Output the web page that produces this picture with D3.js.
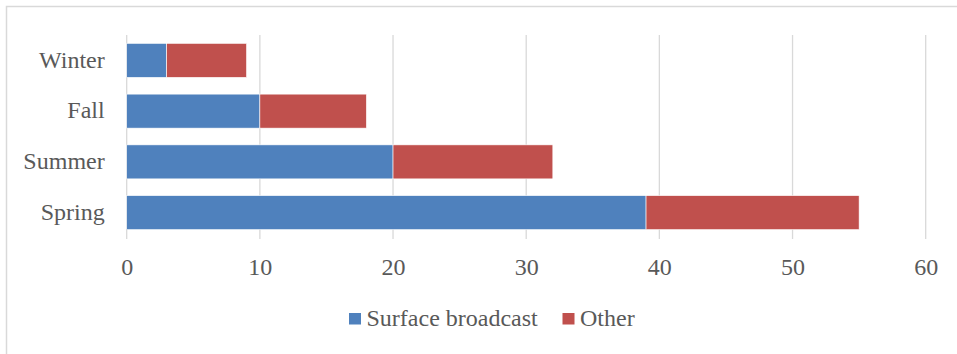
<!DOCTYPE html>
<html>
<head>
<meta charset="utf-8">
<script src="https://cdn.jsdelivr.net/npm/d3@7"></script>
<style>
  html, body { margin: 0; padding: 0; background: #fff; }
  svg { display: block; }
  text { font-family: "Liberation Serif", "Times New Roman", serif; fill: #595959; }
</style>
</head>
<body>
<svg id="chart" width="957" height="354"></svg>
<script>
// Seasons, listed top to bottom
const categories = ["Winter", "Fall", "Summer", "Spring"];
const seriesNames = ["Surface broadcast", "Other"];
const surfaceBroadcast = [3, 10, 20, 39];
const other = [6, 8, 12, 16];
const xTicks = [0, 10, 20, 30, 40, 50, 60];
const colors = ["#4f81bd", "#c0504d"];

const svg = d3.select("#chart");
const W = 957, H = 354;
const serif = '"Liberation Serif", "Times New Roman", serif';

// chart frame (only left and top edges fall inside the view)
svg.append("path")
  .attr("d", `M6.5,${H} V6.5 H${W}`)
  .attr("fill", "none")
  .attr("stroke", "#d9d9d9")
  .attr("stroke-width", 1.5);

const plot = { left: 126.7, right: 925.7, top: 35, bottom: 238 };

const x = d3.scaleLinear().domain([0, 60]).range([plot.left, plot.right]);
const y = d3.scaleBand().domain(categories).range([plot.top, plot.bottom]).paddingInner(0.33).paddingOuter(0.165);

// vertical gridlines
svg.append("g")
  .selectAll("line")
  .data(xTicks)
  .join("line")
  .attr("x1", d => x(d)).attr("x2", d => x(d))
  .attr("y1", plot.top).attr("y2", plot.bottom + 1)
  .attr("stroke", "#d9d9d9")
  .attr("stroke-width", 1.3);

// stacked bars
const rows = categories.map((c, i) => ({ cat: c, "Surface broadcast": surfaceBroadcast[i], "Other": other[i] }));
const stacked = d3.stack().keys(seriesNames)(rows);

svg.append("g")
  .selectAll("g")
  .data(stacked)
  .join("g")
  .attr("fill", (d, i) => colors[i])
  .selectAll("rect")
  .data(d => d)
  .join("rect")
  .attr("x", d => x(d[0]))
  .attr("width", d => x(d[1]) - x(d[0]))
  .attr("y", d => y(d.data.cat))
  .attr("height", y.bandwidth())
  .attr("stroke", "#fff")
  .attr("stroke-width", 0.6);

// x axis labels
const xAxis = d3.axisBottom(x).tickValues(xTicks).tickSize(0).tickPadding(0);
const gx = svg.append("g")
  .attr("transform", `translate(0,${plot.bottom})`)
  .call(xAxis)
  .attr("font-family", serif);
gx.select(".domain").remove();
gx.selectAll("text")
  .attr("y", 37)
  .attr("dy", 0)
  .style("font-family", serif)
  .style("font-size", "24px")
  .attr("fill", "#595959");

// category labels
const yAxis = d3.axisLeft(y).tickSize(0).tickPadding(0);
const gy = svg.append("g")
  .attr("transform", `translate(${plot.left - 22},0)`)
  .call(yAxis)
  .attr("font-family", serif);
gy.select(".domain").remove();
gy.selectAll("text")
  .attr("dy", "0.3em")
  .style("font-family", serif)
  .style("font-size", "24px")
  .attr("fill", "#595959");

// legend
const legendItems = [
  { name: seriesNames[0], color: colors[0], x: 349 },
  { name: seriesNames[1], color: colors[1], x: 562.5 }
];
const lg = svg.append("g");
legendItems.forEach(it => {
  lg.append("rect")
    .attr("x", it.x).attr("y", 313)
    .attr("width", 12).attr("height", 11.5)
    .attr("fill", it.color);
  lg.append("text")
    .attr("x", it.x + 17.5).attr("y", 325.5)
    .style("font-family", serif)
    .style("font-size", "24px")
    .text(it.name);
});
</script>
</body>
</html>
